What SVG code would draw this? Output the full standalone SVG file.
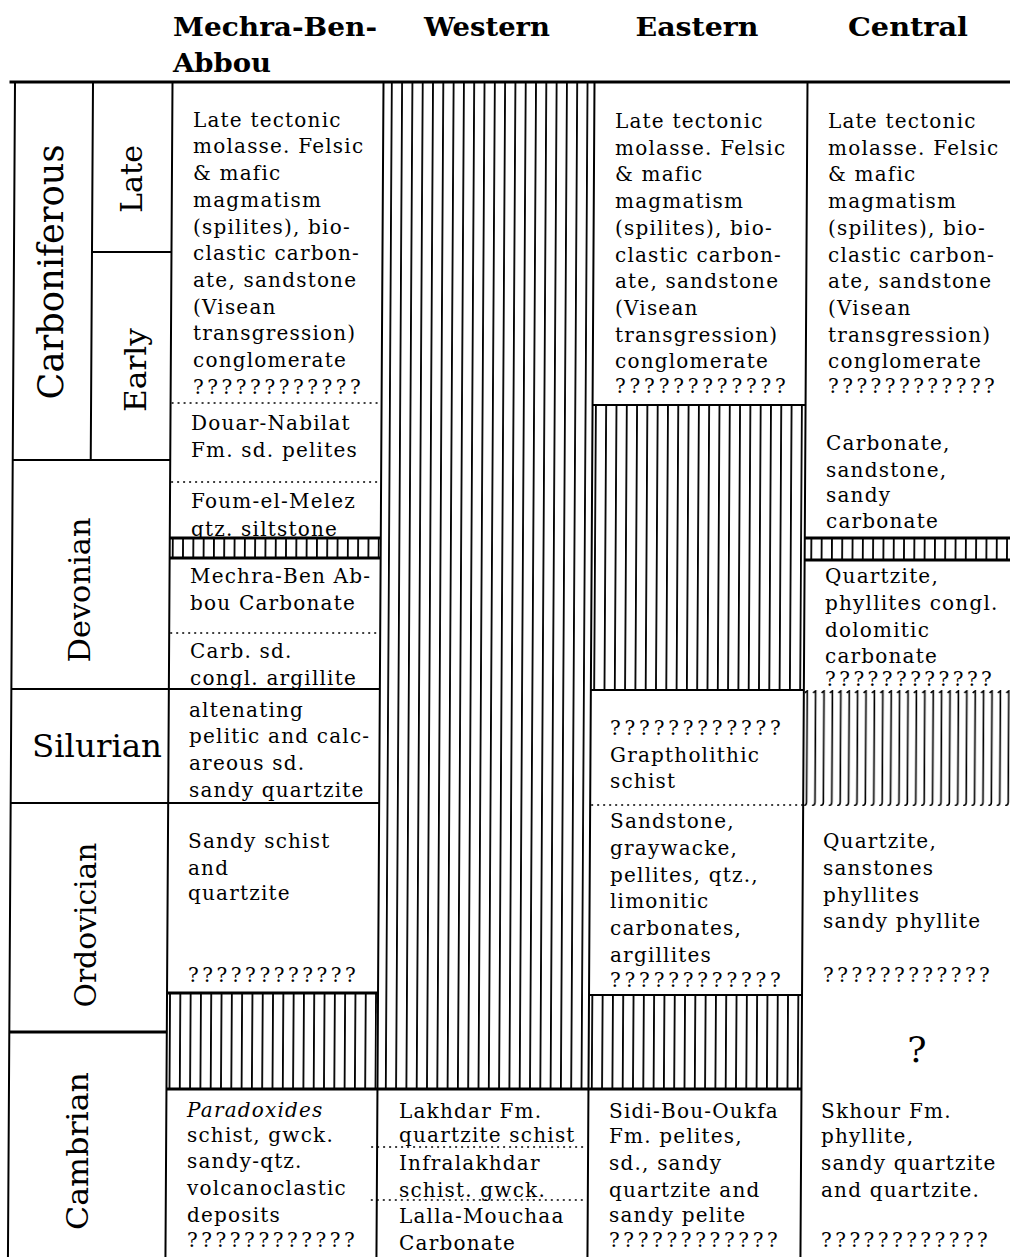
<svg xmlns="http://www.w3.org/2000/svg" width="1010" height="1257" viewBox="0 0 1010 1257">
<style>
.t{font-family:"DejaVu Serif",serif;font-size:20px;letter-spacing:1.2px;fill:#000}
.i{font-style:italic}
.h{font-family:"DejaVu Serif",serif;font-weight:bold;font-size:26px;fill:#000}
.p{font-family:"DejaVu Serif",serif;font-size:30px;fill:#000}
.ln{stroke:#000;stroke-width:2;fill:none}
.tk{stroke:#000;stroke-width:2.8;fill:none}
.dt{stroke:#000;stroke-width:1.6;stroke-dasharray:2 4;fill:none}
</style>
<defs>
<pattern id="vh" patternUnits="userSpaceOnUse" x="0" y="0" width="10.3" height="10"><rect x="0" y="0" width="1.8" height="10" fill="#000"/></pattern>
<pattern id="wh" patternUnits="userSpaceOnUse" x="0" y="690" width="8.4" height="120"><path d="M5,0.5 L2.5,3 M5,0 V112 Q5,115.5 2,115.5" stroke="#000" stroke-width="1.6" fill="none"/></pattern>
</defs>
<rect width="1010" height="1257" fill="#fff"/>

<g id="headers">
<text class="h" x="173" y="36" textLength="204" lengthAdjust="spacingAndGlyphs">Mechra-Ben-</text>
<text class="h" x="173" y="72" textLength="98" lengthAdjust="spacingAndGlyphs">Abbou</text>
<text class="h" x="487" y="36" text-anchor="middle" textLength="126" lengthAdjust="spacingAndGlyphs">Western</text>
<text class="h" x="697" y="36" text-anchor="middle" textLength="123" lengthAdjust="spacingAndGlyphs">Eastern</text>
<text class="h" x="908" y="36" text-anchor="middle" textLength="120" lengthAdjust="spacingAndGlyphs">Central</text>
</g>

<g id="periods">
<text class="p" style="font-size:35px" transform="translate(63,272) rotate(-90)" text-anchor="middle" textLength="255" lengthAdjust="spacingAndGlyphs">Carboniferous</text>
<text class="p" transform="translate(142,179) rotate(-90)" text-anchor="middle" textLength="68" lengthAdjust="spacingAndGlyphs">Late</text>
<text class="p" transform="translate(146,370) rotate(-90)" text-anchor="middle" textLength="84" lengthAdjust="spacingAndGlyphs">Early</text>
<text class="p" transform="translate(90,590) rotate(-90)" text-anchor="middle" textLength="145" lengthAdjust="spacingAndGlyphs">Devonian</text>
<text class="p" style="font-size:32px" x="32" y="757" textLength="130" lengthAdjust="spacingAndGlyphs">Silurian</text>
<text class="p" transform="translate(96,925) rotate(-90)" text-anchor="middle" textLength="165" lengthAdjust="spacingAndGlyphs">Ordovician</text>
<text class="p" transform="translate(88,1151) rotate(-90)" text-anchor="middle" textLength="158" lengthAdjust="spacingAndGlyphs">Cambrian</text>
</g>

<g id="mechra">
<text class="t" x="193" y="127">Late tectonic</text>
<text class="t" x="193" y="153">molasse. Felsic</text>
<text class="t" x="193" y="180">&amp; mafic</text>
<text class="t" x="193" y="207">magmatism</text>
<text class="t" x="193" y="234">(spilites), bio-</text>
<text class="t" x="193" y="260">clastic carbon-</text>
<text class="t" x="193" y="287">ate, sandstone</text>
<text class="t" x="193" y="314">(Visean</text>
<text class="t" x="193" y="340">transgression)</text>
<text class="t" x="193" y="367">conglomerate</text>
<text class="t" x="193" y="394" textLength="169" lengthAdjust="spacing">????????????</text>
<text class="t" x="191" y="430">Douar-Nabilat</text>
<text class="t" x="191" y="457">Fm. sd. pelites</text>
<text class="t" x="191" y="508">Foum-el-Melez</text>
<text class="t" x="191" y="536">qtz. siltstone</text>
<text class="t" x="190" y="583">Mechra-Ben Ab-</text>
<text class="t" x="190" y="610">bou Carbonate</text>
<text class="t" x="190" y="658">Carb. sd.</text>
<text class="t" x="190" y="685">congl. argillite</text>
<text class="t" x="189" y="717">altenating</text>
<text class="t" x="189" y="743">pelitic and calc-</text>
<text class="t" x="189" y="770">areous sd.</text>
<text class="t" x="189" y="797">sandy quartzite</text>
<text class="t" x="188" y="848">Sandy schist</text>
<text class="t" x="188" y="875">and</text>
<text class="t" x="188" y="900">quartzite</text>
<text class="t" x="188" y="982" textLength="169" lengthAdjust="spacing">????????????</text>
<text class="t i" x="187" y="1117">Paradoxides</text>
<text class="t" x="187" y="1142">schist, gwck.</text>
<text class="t" x="187" y="1168">sandy-qtz.</text>
<text class="t" x="187" y="1195">volcanoclastic</text>
<text class="t" x="187" y="1222">deposits</text>
<text class="t" x="187" y="1247" textLength="169" lengthAdjust="spacing">????????????</text>
</g>

<g id="western">
<text class="t" x="399" y="1118">Lakhdar Fm.</text>
<text class="t" x="399" y="1142">quartzite schist</text>
<text class="t" x="399" y="1170">Infralakhdar</text>
<text class="t" x="399" y="1197">schist. gwck.</text>
<text class="t" x="399" y="1223">Lalla-Mouchaa</text>
<text class="t" x="399" y="1250">Carbonate</text>
</g>

<g id="eastern">
<text class="t" x="615" y="128">Late tectonic</text>
<text class="t" x="615" y="155">molasse. Felsic</text>
<text class="t" x="615" y="181">&amp; mafic</text>
<text class="t" x="615" y="208">magmatism</text>
<text class="t" x="615" y="235">(spilites), bio-</text>
<text class="t" x="615" y="262">clastic carbon-</text>
<text class="t" x="615" y="288">ate, sandstone</text>
<text class="t" x="615" y="315">(Visean</text>
<text class="t" x="615" y="342">transgression)</text>
<text class="t" x="615" y="368">conglomerate</text>
<text class="t" x="615" y="393" textLength="172" lengthAdjust="spacing">????????????</text>
<text class="t" x="610" y="735" textLength="172" lengthAdjust="spacing">????????????</text>
<text class="t" x="610" y="762">Graptholithic</text>
<text class="t" x="610" y="788">schist</text>
<text class="t" x="610" y="828">Sandstone,</text>
<text class="t" x="610" y="855">graywacke,</text>
<text class="t" x="610" y="882">pellites, qtz.,</text>
<text class="t" x="610" y="908">limonitic</text>
<text class="t" x="610" y="935">carbonates,</text>
<text class="t" x="610" y="962">argillites</text>
<text class="t" x="610" y="987" textLength="172" lengthAdjust="spacing">????????????</text>
<text class="t" x="609" y="1118">Sidi-Bou-Oukfa</text>
<text class="t" x="609" y="1143">Fm. pelites,</text>
<text class="t" x="609" y="1170">sd., sandy</text>
<text class="t" x="609" y="1197">quartzite and</text>
<text class="t" x="609" y="1222">sandy pelite</text>
<text class="t" x="609" y="1247" textLength="170" lengthAdjust="spacing">????????????</text>
</g>

<g id="central">
<text class="t" x="828" y="128">Late tectonic</text>
<text class="t" x="828" y="155">molasse. Felsic</text>
<text class="t" x="828" y="181">&amp; mafic</text>
<text class="t" x="828" y="208">magmatism</text>
<text class="t" x="828" y="235">(spilites), bio-</text>
<text class="t" x="828" y="262">clastic carbon-</text>
<text class="t" x="828" y="288">ate, sandstone</text>
<text class="t" x="828" y="315">(Visean</text>
<text class="t" x="828" y="342">transgression)</text>
<text class="t" x="828" y="368">conglomerate</text>
<text class="t" x="828" y="393" textLength="168" lengthAdjust="spacing">????????????</text>
<text class="t" x="826" y="450">Carbonate,</text>
<text class="t" x="826" y="477">sandstone,</text>
<text class="t" x="826" y="502">sandy</text>
<text class="t" x="826" y="528">carbonate</text>
<text class="t" x="825" y="583">Quartzite,</text>
<text class="t" x="825" y="610">phyllites congl.</text>
<text class="t" x="825" y="637">dolomitic</text>
<text class="t" x="825" y="663">carbonate</text>
<text class="t" x="825" y="686" textLength="168" lengthAdjust="spacing">????????????</text>
<text class="t" x="823" y="848">Quartzite,</text>
<text class="t" x="823" y="875">sanstones</text>
<text class="t" x="823" y="902">phyllites</text>
<text class="t" x="823" y="928">sandy phyllite</text>
<text class="t" x="823" y="982" textLength="168" lengthAdjust="spacing">????????????</text>
<text class="t" style="font-size:36px;letter-spacing:0" x="917" y="1062" text-anchor="middle">?</text>
<text class="t" x="821" y="1118">Skhour Fm.</text>
<text class="t" x="821" y="1143">phyllite,</text>
<text class="t" x="821" y="1170">sandy quartzite</text>
<text class="t" x="821" y="1197">and quartzite.</text>
<text class="t" x="821" y="1247" textLength="168" lengthAdjust="spacing">????????????</text>
</g>

<g id="hatches" transform="skewX(-0.344)">
<rect x="385" y="82" width="209" height="1007" fill="url(#vh)"/>
<rect x="596" y="405" width="211" height="285" fill="url(#vh)"/>
<rect x="596" y="995" width="211" height="94" fill="url(#vh)"/>
<rect x="174" y="993" width="209" height="96" fill="url(#vh)"/>
<rect x="173" y="538" width="211" height="20" fill="#fff"/>
<rect x="174" y="538" width="209" height="20" fill="url(#vh)"/>
<rect x="809" y="538" width="210" height="22" fill="url(#vh)"/>
<rect x="809" y="688" width="210" height="118" fill="url(#wh)"/>
</g>

<g id="frame" transform="skewX(-0.344)">
<path class="tk" d="M10,82 H1016"/>
<path class="ln" d="M15.5,82 V1257 M93.5,82 V460 M173,82 V1257 M384,82 V1257 M595,82 V1257 M808,82 V1257"/>
<path class="ln" d="M93.5,252 H173 M15.5,460 H173 M15.5,689 H384 M15.5,803 H384 M595,405 H808 M595,690 H808 M595,995 H808"/>
<path class="tk" d="M15.5,1032 H173 M173,993 H384 M173,1089 H808 M173,538 H384 M173,558 H384 M808,538 H1016 M808,560 H1016"/>
<path class="dt" d="M174,403 H384 M174,482 H384 M174,633 H384 M596,805 H808 M378,1147 H592 M378,1200 H592"/>
</g>
</svg>
